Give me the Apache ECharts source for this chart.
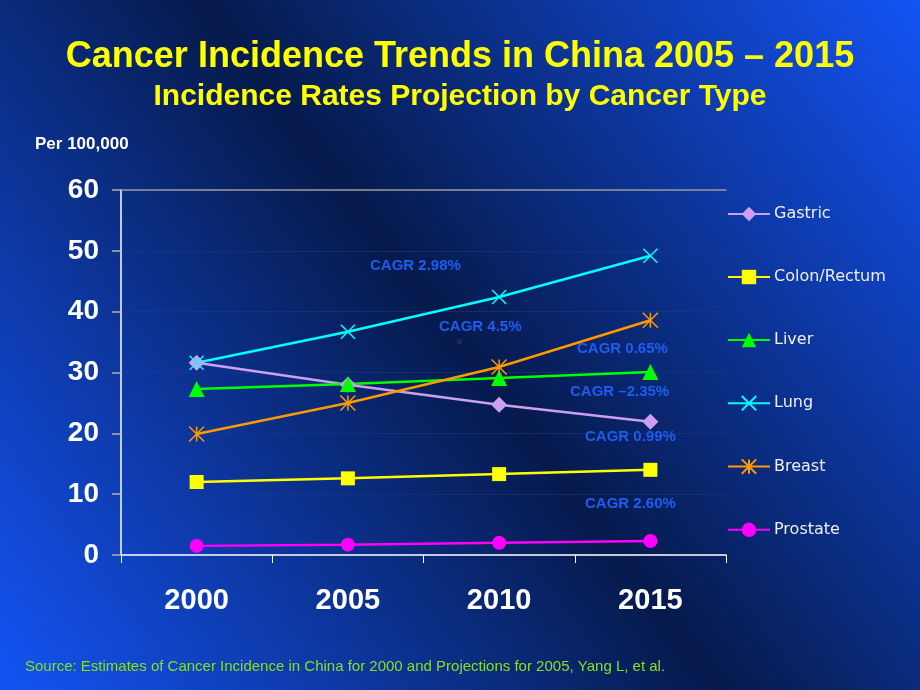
<!DOCTYPE html>
<html><head><meta charset="utf-8">
<script src="https://cdn.jsdelivr.net/npm/echarts@6/dist/echarts.min.js"></script>
<style>html,body{margin:0;padding:0;}#c{width:920px;height:690px;}</style>
</head><body><div id="c"></div>
<script>
const categories = ['2000', '2005', '2010', '2015'];
const gastric  = [31.6, 28.0, 24.7, 21.9];
const colon    = [12.0, 12.6, 13.3, 14.0];
const liver    = [27.3, 28.1, 29.1, 30.1];
const lung     = [31.6, 36.7, 42.4, 49.2];
const breast   = [19.9, 25.0, 30.9, 38.6];
const prostate = [1.5, 1.7, 2.0, 2.3];
const seriesNames = ['Gastric', 'Colon/Rectum', 'Liver', 'Lung', 'Breast', 'Prostate'];
const cagrLabels = ['CAGR 2.98%', 'CAGR 4.5%', 'CAGR 0.65%', 'CAGR \u20132.35%', 'CAGR 0.99%', 'CAGR 2.60%'];

const chart = echarts.init(document.getElementById('c'));
const X = 'path://M0,0L10,10M10,0L0,10';
const AST = 'path://M0,0L10,10M10,0L0,10M5,0L5,10';
function mk(name, data, color, symbol, size, stroke) {
  return {
    name, type: 'line', data, symbol, symbolSize: size,
    lineStyle: {color, width: 2.5},
    itemStyle: stroke ? {color: 'transparent', borderColor: color, borderWidth: 1.5} : {color, borderWidth: 0},
    emphasis: {disabled: true}, z: 3
  };
}
const cagrFont = 'bold 15px Liberation Sans, Arial';
function cagr(i, left, cy) {
  return {type: 'text', left, top: cy - 8, style: {text: cagrLabels[i], fill: '#1f5cf0', font: cagrFont}};
}
const option = {
  backgroundColor: new echarts.graphic.LinearGradient(0, 1, 1, 0, [
    {offset: 0, color: '#1454f5'},
    {offset: 0.5, color: '#061a4c'},
    {offset: 1, color: '#1454f5'}
  ]),
  animation: false,
  title: [
    {text: 'Cancer Incidence Trends in China 2005 \u2013 2015', left: 'center', top: 39, padding: 0,
     textStyle: {color: '#ffff00', fontFamily: 'Liberation Sans, Arial', fontWeight: 'bold', fontSize: 36,
       textShadowColor: 'rgba(0,0,0,0.8)', textShadowOffsetX: 2, textShadowOffsetY: 2, textShadowBlur: 0}},
    {text: 'Incidence Rates Projection by Cancer Type', left: 'center', top: 82, padding: 0,
     textStyle: {color: '#ffff00', fontFamily: 'Liberation Sans, Arial', fontWeight: 'bold', fontSize: 30,
       textShadowColor: 'rgba(0,0,0,0.8)', textShadowOffsetX: 2, textShadowOffsetY: 2, textShadowBlur: 0}},
    {text: 'Per 100,000', left: 35, top: 136, padding: 0,
     textStyle: {color: '#ffffff', fontFamily: 'Liberation Sans, Arial', fontWeight: 'bold', fontSize: 17}},
    {text: 'Source: Estimates of Cancer Incidence in China for 2000 and Projections for 2005, Yang L, et al.', left: 25, top: 659, padding: 0,
     textStyle: {color: '#86e01e', fontFamily: 'Liberation Sans, Arial', fontWeight: 'normal', fontSize: 15}}
  ],
  legend: {
    orient: 'vertical', left: 727, top: 206, itemWidth: 42, itemHeight: 18, itemGap: 47, padding: 0,
    data: seriesNames,
    textStyle: {color: '#eeeeee', fontFamily: 'DejaVu Sans', fontSize: 16, padding: [0,0,0,-1]}
  },
  grid: {left: 121, right: 194, top: 190, bottom: 135},
  xAxis: [{
    type: 'category', data: categories, boundaryGap: true,
    axisLine: {lineStyle: {color: '#ffffff', width: 1.5}},
    axisTick: {show: true, length: 8, lineStyle: {color: '#ffffff'}},
    axisLabel: {color: '#ffffff', fontFamily: 'Liberation Sans, Arial', fontWeight: 'bold', fontSize: 29, margin: 31}
  }, {
    type: 'category', data: categories, position: 'top',
    axisLine: {lineStyle: {color: '#9a9a9a', width: 1.5}},
    axisTick: {show: false}, axisLabel: {show: false}
  }],
  yAxis: {
    type: 'value', min: 0, max: 60, interval: 10,
    axisLine: {show: true, lineStyle: {color: '#ffffff', width: 1.5}},
    axisTick: {show: true, inside: false, length: 9, lineStyle: {color: '#b0b0b0', width: 1.5}},
    axisLabel: {color: '#ffffff', fontFamily: 'Liberation Sans, Arial', fontWeight: 'bold', fontSize: 28, margin: 22},
    splitLine: {show: true, lineStyle: {color: '#2a3a6a', type: 'dotted', width: 1}}
  },
  graphic: [
    cagr(0, 370, 266),
    cagr(1, 439, 327),
    cagr(2, 577, 349),
    cagr(3, 570, 392),
    cagr(4, 585, 437),
    cagr(5, 585, 504),
    {type: 'rect', left: 457, top: 339, shape: {width: 5, height: 5}, style: {fill: '#1a2a50'}}
  ],
  series: [
    mk('Gastric', gastric, '#cc9ff0', 'diamond', 16, false),
    mk('Colon/Rectum', colon, '#ffff00', 'rect', 14, false),
    mk('Liver', liver, '#00ff00', 'triangle', 16, false),
    mk('Lung', lung, '#00ffff', X, 14, true),
    mk('Breast', breast, '#ff9900', AST, 15, true),
    mk('Prostate', prostate, '#ff00ff', 'circle', 14, false)
  ]
};
chart.setOption(option);
</script></body></html>
